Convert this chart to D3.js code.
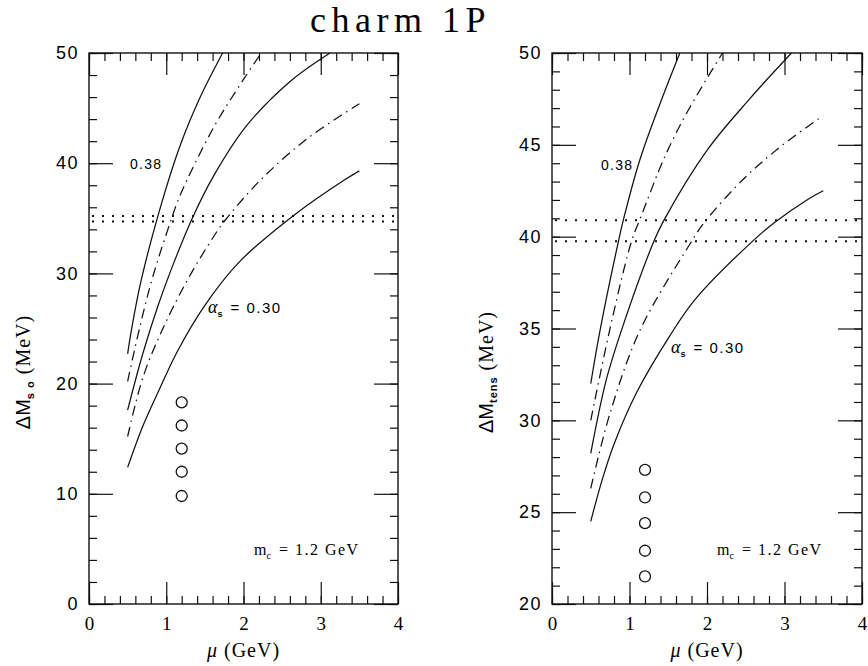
<!DOCTYPE html>
<html>
<head>
<meta charset="utf-8">
<script src="https://cdn.jsdelivr.net/npm/d3@7"></script>
<style>
  body{margin:0;background:#fff;}
  svg{display:block;}
</style>
</head>
<body>
<svg id="chart" width="868" height="666"></svg>
<script>
// ---- data ----
const muTicks = [0, 1, 2, 3, 4];
const soTicks = [0, 10, 20, 30, 40, 50];
const tensTicks = [20, 25, 30, 35, 40, 45, 50];
const alphaS = [0.38, 0.36, 0.34, 0.32, 0.30];

// [mu, dM] for alpha_s = 0.38 ... 0.30
const soCurves = [
  [[0.5,22.7],[0.55,24.9],[0.67,29.2],[0.9,35.4],[1.18,41.6],[1.44,46.0],[1.73,50]],
  [[0.5,20.2],[0.66,25.2],[0.83,29.8],[1.07,35.0],[1.18,37.1],[1.61,43.2],[2.0,47.6],[2.23,50]],
  [[0.5,17.6],[0.7,22.8],[0.9,27.2],[1.1,31.0],[1.33,34.9],[1.61,38.8],[2.04,43.4],[2.6,47.4],[3.12,50]],
  [[0.5,15.2],[0.7,20.6],[0.97,25.2],[1.29,29.6],[1.61,33.3],[1.76,34.8],[2.21,38.4],[2.82,42.2],[3.5,45.4]],
  [[0.5,12.4],[0.7,16.2],[0.9,19.3],[1.135,22.8],[1.48,26.9],[1.94,31.0],[2.62,35.1],[3.29,38.4],[3.5,39.3]]
];
const tensCurves = [
  [[0.5,32.0],[0.62,34.9],[0.86,39.8],[0.92,40.9],[1.135,44.2],[1.39,47.2],[1.65,50]],
  [[0.5,30.0],[0.77,35.4],[1.03,39.8],[1.14,41.0],[1.46,44.4],[1.76,46.9],[2.2,50]],
  [[0.5,28.2],[0.7,32.2],[0.92,35.2],[1.32,39.8],[1.445,40.9],[2.0,44.7],[2.55,47.5],[3.09,50]],
  [[0.5,26.3],[0.75,30.4],[1.135,34.9],[1.78,39.6],[1.97,40.8],[2.51,43.3],[2.98,45.0],[3.5,46.6]],
  [[0.5,24.5],[0.65,26.8],[0.8,28.7],[1.09,31.5],[1.52,34.6],[1.85,36.6],[2.6,39.8],[2.88,40.8],[3.29,42.0],[3.5,42.5]]
];

const soDotted = [35.2, 34.7];
const tensDotted = [40.9, 39.75];

const circleMu = 1.2;
const soCircles = [18.3, 16.2, 14.1, 12.0, 9.8];
const tensCircles = [27.3, 25.8, 24.4, 22.9, 21.5];

const mC = 1.2;

// ---- drawing ----
const SERIF = '"Liberation Serif","DejaVu Serif",serif';
const SANS = '"Liberation Sans",Arial,sans-serif';

const svg = d3.select('#chart');

svg.append('text')
  .attr('x', 310).attr('y', 32)
  .style('font-family', SERIF)
  .style('font-size', '36px')
  .style('letter-spacing', '5.5px')
  .text('charm 1P');

function Panel(opts){
  const x = d3.scaleLinear().domain([0, 4]).range([opts.x0, opts.x1]);
  const y = d3.scaleLinear().domain(opts.yDomain).range([604, 53]);
  const g = svg.append('g');

  const strip = sel => sel.select('.domain').remove();

  // minor ticks all round
  g.append('g').attr('transform', `translate(0,${y.range()[0]})`)
    .call(d3.axisBottom(x).tickValues(x.ticks(20)).tickSize(-8).tickFormat('')).call(strip);
  g.append('g').attr('transform', `translate(0,${y.range()[1]})`)
    .call(d3.axisTop(x).tickValues(x.ticks(20)).tickSize(-8).tickFormat('')).call(strip);
  g.append('g').attr('transform', `translate(${opts.x0},0)`)
    .call(d3.axisLeft(y).tickValues(y.ticks(opts.minorCount)).tickSize(-8).tickFormat('')).call(strip);
  g.append('g').attr('transform', `translate(${opts.x1},0)`)
    .call(d3.axisRight(y).tickValues(y.ticks(opts.minorCount)).tickSize(-8).tickFormat('')).call(strip);

  // major ticks with labels
  const xb = g.append('g').attr('transform', `translate(0,${y.range()[0]})`)
    .call(d3.axisBottom(x).tickValues(muTicks).tickSize(-22).tickPadding(13).tickFormat(d3.format('d'))).call(strip);
  xb.selectAll('text').style('font-family', SERIF).style('font-size', '19px');
  g.append('g').attr('transform', `translate(0,${y.range()[1]})`)
    .call(d3.axisTop(x).tickValues(muTicks).tickSize(-22).tickFormat('')).call(strip);
  const yl = g.append('g').attr('transform', `translate(${opts.x0},0)`)
    .call(d3.axisLeft(y).tickValues(opts.yTicks).tickSize(-24).tickPadding(10).tickFormat(d3.format('d'))).call(strip);
  yl.selectAll('text').style('font-family', SANS).style('font-size', '18px').style('letter-spacing', '1.5px');
  g.append('g').attr('transform', `translate(${opts.x1},0)`)
    .call(d3.axisRight(y).tickValues(opts.yTicks).tickSize(-24).tickFormat('')).call(strip);

  g.selectAll('.tick line').attr('stroke', '#111').attr('stroke-width', 1.2);

  g.append('rect')
    .attr('x', opts.x0).attr('y', 53)
    .attr('width', opts.x1 - opts.x0).attr('height', 551)
    .attr('fill', 'none').attr('stroke', '#111').attr('stroke-width', 1.4);

  // dotted bands
  g.selectAll('.band').data(opts.dotted).enter().append('line')
    .attr('class', 'band')
    .attr('x1', x(0) + 3).attr('x2', x(4))
    .attr('y1', d => y(d)).attr('y2', d => y(d))
    .attr('stroke', '#111').attr('stroke-width', 2)
    .attr('stroke-dasharray', '2,8');

  // curves
  const line = d3.line().x(d => x(d[0])).y(d => y(d[1])).curve(d3.curveCatmullRom.alpha(0.5));
  g.selectAll('.curve').data(opts.curves).enter().append('path')
    .attr('class', 'curve')
    .attr('d', line)
    .attr('fill', 'none')
    .attr('stroke', '#111')
    .attr('stroke-width', 1.25)
    .attr('stroke-dasharray', (d, i) => i % 2 ? '10,5,1.5,5' : null);

  // open circles
  g.selectAll('.pt').data(opts.circles).enter().append('circle')
    .attr('class', 'pt')
    .attr('cx', x(circleMu)).attr('cy', d => y(d)).attr('r', 5.5)
    .attr('fill', 'none').attr('stroke', '#111').attr('stroke-width', 1.3);

  // curve labels
  g.append('text')
    .attr('x', opts.lab38[0]).attr('y', opts.lab38[1])
    .style('font-family', SANS).style('font-size', '14px').style('letter-spacing', '1.3px')
    .text(alphaS[0].toFixed(2));

  const al = g.append('text')
    .attr('x', opts.lab30[0]).attr('y', opts.lab30[1])
    .style('font-family', SANS).style('font-size', '15px');
  al.append('tspan').style('font-family', SERIF).style('font-style', 'italic').style('font-size', '18px').text('α');
  al.append('tspan').attr('dy', 4).style('font-size', '9px').style('font-weight', 'bold').text('s');
  al.append('tspan').attr('dy', -4).attr('dx', 8).style('letter-spacing', '1.5px').text('=  ' + alphaS[4].toFixed(2));

  const mc = g.append('text')
    .attr('x', opts.labM[0]).attr('y', 555)
    .style('font-family', SERIF).style('font-size', '16px');
  mc.append('tspan').text('m');
  mc.append('tspan').attr('dy', 4).style('font-size', '10px').text('c');
  mc.append('tspan').attr('dy', -4).attr('dx', 8).style('letter-spacing', '1.5px').text('=  ' + mC.toFixed(1) + '  GeV');

  // axis titles
  const xt = g.append('text')
    .attr('x', (opts.x0 + opts.x1) / 2).attr('y', 657)
    .attr('text-anchor', 'middle')
    .style('font-family', SERIF).style('font-size', '20px').style('letter-spacing', '1px');
  xt.append('tspan').style('font-style', 'italic').text('μ');
  xt.append('tspan').text('  (GeV)');

  const yt = g.append('text')
    .attr('transform', `translate(${opts.yTitleX},372) rotate(-90)`)
    .attr('text-anchor', 'middle')
    .style('font-size', '20px');
  yt.append('tspan').style('font-family', SANS).text('ΔM');
  yt.append('tspan').attr('dy', 4).style('font-family', SANS).style('font-size', '11px').style('font-weight', 'bold')
    .style('letter-spacing', '1px').text(opts.sub);
  yt.append('tspan').attr('dy', -4).style('font-family', SERIF).style('letter-spacing', '1px').text('  (MeV)');
}

Panel({
  x0: 89, x1: 398, yDomain: [0, 50], yTicks: soTicks, minorCount: 25,
  curves: soCurves, dotted: soDotted, circles: soCircles,
  lab38: [130, 169], lab30: [208, 313], labM: [254], yTitleX: 30, sub: 's o'
});
Panel({
  x0: 552, x1: 862, yDomain: [20, 50], yTicks: tensTicks, minorCount: 30,
  curves: tensCurves, dotted: tensDotted, circles: tensCircles,
  lab38: [601, 170], lab30: [671, 353], labM: [717], yTitleX: 493, sub: 'tens'
});
</script>
</body>
</html>
